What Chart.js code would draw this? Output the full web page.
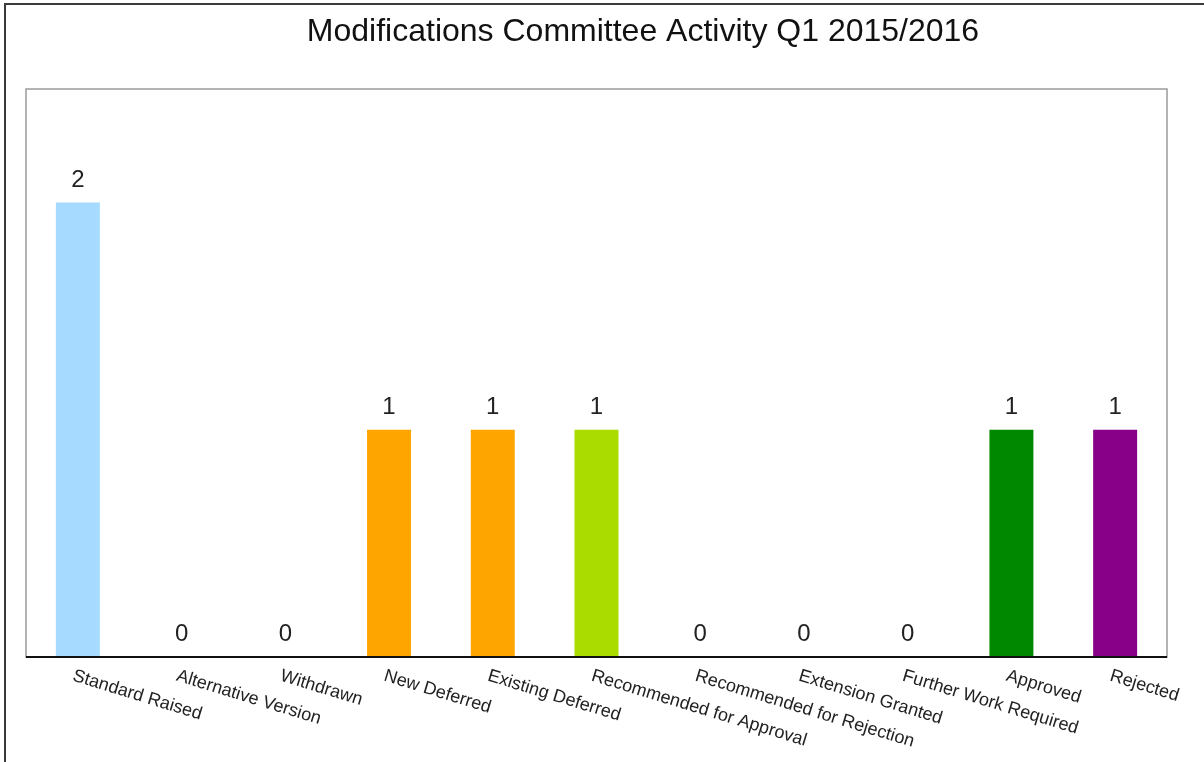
<!DOCTYPE html>
<html>
<head>
<meta charset="utf-8">
<script src="https://cdn.jsdelivr.net/npm/chart.js@4/dist/chart.umd.min.js"></script>
<style>
  html, body { margin: 0; padding: 0; background: #ffffff; }
  #wrap { width: 1204px; height: 762px; position: relative; }
</style>
</head>
<body>
<div id="wrap"><canvas id="chart" width="1204" height="762"></canvas></div>
<script>
// Chart content
const chartTitle = 'Modifications Committee Activity Q1 2015/2016';
const categories = [
  'Standard Raised', 'Alternative Version', 'Withdrawn', 'New Deferred',
  'Existing Deferred', 'Recommended for Approval', 'Recommended for Rejection',
  'Extension Granted', 'Further Work Required', 'Approved', 'Rejected'
];
const counts = [2, 0, 0, 1, 1, 1, 0, 0, 0, 1, 1];
const barColors = [
  '#A6DAFF', '#A6DAFF', '#A6DAFF', '#FFA500', '#FFA500', '#AADC00',
  '#AADC00', '#AADC00', '#AADC00', '#008800', '#880088'
];

const FONT = '"Liberation Sans", Arial, sans-serif';

// Outer frame, plot box and axis line
const framePlugin = {
  id: 'frame',
  beforeDraw(chart) {
    const ctx = chart.ctx;
    const a = chart.chartArea;
    ctx.save();
    ctx.fillStyle = '#ffffff';
    ctx.fillRect(0, 0, chart.width, chart.height);
    // page frame (top and left edges)
    ctx.strokeStyle = '#3a3a3a';
    ctx.lineWidth = 2;
    ctx.beginPath();
    ctx.moveTo(5, chart.height);
    ctx.lineTo(5, 4);
    ctx.lineTo(chart.width, 4);
    ctx.stroke();
    // plot box
    ctx.strokeStyle = '#9a9a9a';
    ctx.lineWidth = 1.5;
    ctx.strokeRect(a.left, a.top, a.right - a.left, a.bottom - a.top);
    ctx.restore();
  },
  afterDatasetsDraw(chart) {
    const ctx = chart.ctx;
    const a = chart.chartArea;
    ctx.save();
    ctx.strokeStyle = '#111111';
    ctx.lineWidth = 2;
    ctx.beginPath();
    ctx.moveTo(a.left, a.bottom);
    ctx.lineTo(a.right, a.bottom);
    ctx.stroke();
    ctx.restore();
  }
};

// Title, value labels and slanted category labels
const textPlugin = {
  id: 'texts',
  afterDraw(chart) {
    const ctx = chart.ctx;
    const a = chart.chartArea;
    const xScale = chart.scales.x;
    ctx.save();
    ctx.fillStyle = '#111111';
    ctx.font = '32px ' + FONT;
    ctx.textAlign = 'center';
    ctx.textBaseline = 'alphabetic';
    ctx.fillText(chartTitle, 643, 41);

    // values above bars
    ctx.font = '24px ' + FONT;
    ctx.fillStyle = '#222222';
    const meta = chart.getDatasetMeta(0);
    meta.data.forEach((bar, i) => {
      ctx.fillText(String(counts[i]), bar.x, bar.y - 16);
    });

    // category labels, rotated clockwise from each tick
    ctx.font = '18px ' + FONT;
    ctx.textAlign = 'left';
    ctx.textBaseline = 'top';
    const angle = 17 * Math.PI / 180;
    categories.forEach((label, i) => {
      const x = xScale.getPixelForValue(i);
      ctx.save();
      ctx.translate(x - 2, a.bottom + 10);
      ctx.rotate(angle);
      ctx.fillText(label, 0, 0);
      ctx.restore();
    });
    ctx.restore();
  }
};

new Chart(document.getElementById('chart'), {
  type: 'bar',
  data: {
    labels: categories,
    datasets: [{
      data: counts,
      backgroundColor: barColors,
      borderWidth: 0,
      categoryPercentage: 1.0,
      barPercentage: 0.424
    }]
  },
  options: {
    responsive: false,
    animation: false,
    devicePixelRatio: 1,
    layout: { padding: { left: 26, top: 89, right: 37, bottom: 105 } },
    plugins: {
      legend: { display: false },
      title: { display: false },
      tooltip: { enabled: false }
    },
    scales: {
      x: { display: false, offset: true },
      y: { display: false, min: 0, max: 2.5 }
    }
  },
  plugins: [framePlugin, textPlugin]
});
</script>
</body>
</html>
